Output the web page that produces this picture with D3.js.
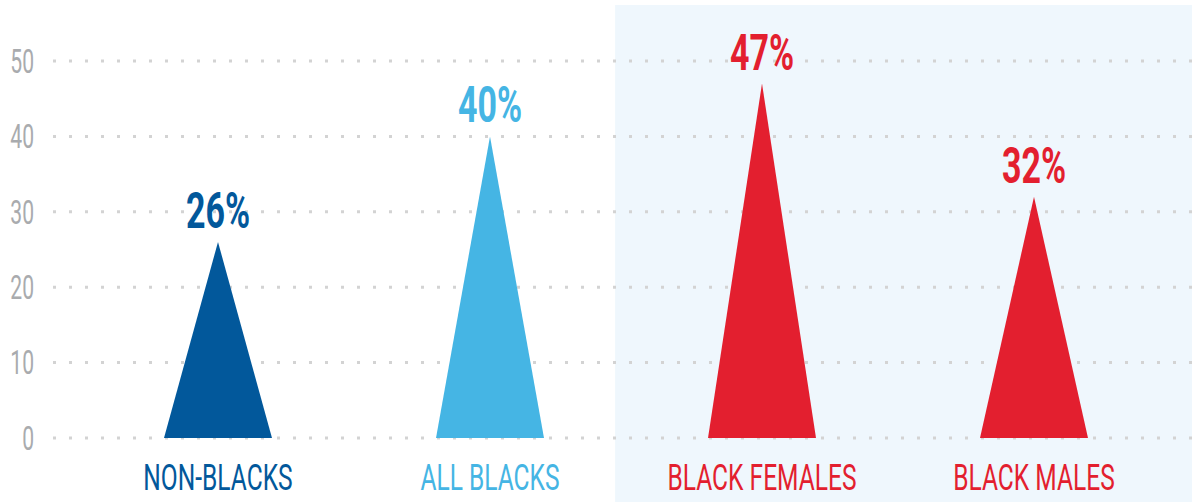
<!DOCTYPE html>
<html><head><meta charset="utf-8">
<script src="https://cdn.jsdelivr.net/npm/d3@7"></script>
<style>html,body{margin:0;padding:0;background:#fff;}svg{display:block;}</style>
</head><body>
<svg id="chart" width="1192" height="502"></svg>
<script>
const categories = ["NON-BLACKS", "ALL BLACKS", "BLACK FEMALES", "BLACK MALES"];
const values = [26, 40, 47, 32];
const valueLabels = ["26%", "40%", "47%", "32%"];
const colors = ["#02589b", "#45b5e4", "#e31f2f", "#e31f2f"];
const yTicks = [0, 10, 20, 30, 40, 50];
const highlighted = ["BLACK FEMALES", "BLACK MALES"];

const W = 1192, H = 502;
const svg = d3.select("#chart");
const x = d3.scaleBand().domain(categories).range([82, 1170]).paddingInner(0).paddingOuter(0);
const y = d3.scaleLinear().domain([0, 50]).range([438, 61]);
const step = x.step();
const triW = step * 0.397;

// highlight panel
const hx0 = x(highlighted[0]) - step * 0.04;
svg.append("rect").attr("x", hx0).attr("y", 5).attr("width", W - hx0).attr("height", H - 5)
  .attr("fill", "#eff7fd");

// gridlines (dotted)
const grid = svg.append("g");
grid.selectAll("line").data(yTicks).join("line")
  .attr("x1", 53).attr("x2", W).attr("y1", d => y(d)).attr("y2", d => y(d))
  .attr("stroke", "#d3d3d3").attr("stroke-width", 3)
  .attr("stroke-dasharray", "3 13");

// y tick labels
const ticks = svg.append("g");
ticks.selectAll("text").data(yTicks).join("text")
  .attr("transform", d => `translate(34,${y(d)}) scale(0.64,1)`)
  .attr("text-anchor", "end").attr("dy", "0.36em")
  .attr("font-family", "Roboto").attr("font-weight", 400).attr("font-size", 33)
  .attr("fill", "#a9abae").text(d => d);

// triangles
const data = categories.map((c, i) => ({c, v: values[i], label: valueLabels[i], color: colors[i]}));
svg.append("g").selectAll("path").data(data).join("path")
  .attr("d", d => {
    const cx = x(d.c) + step / 2;
    return `M${cx - triW / 2},${y(0)}L${cx},${y(d.v)}L${cx + triW / 2},${y(0)}Z`;
  })
  .attr("fill", d => d.color);

// value labels
svg.append("g").selectAll("text").data(data).join("text")
  .attr("transform", d => `translate(${x(d.c) + step / 2},${y(d.v) - 14}) scale(0.68,1)`)
  .attr("text-anchor", "middle")
  .attr("font-family", "Roboto").attr("font-weight", 700).attr("font-size", 50)
  .attr("fill", d => d.color).text(d => d.label);

// category labels
svg.append("g").selectAll("text").data(data).join("text")
  .attr("transform", d => `translate(${x(d.c) + step / 2},490) scale(0.655,1)`)
  .attr("text-anchor", "middle")
  .attr("font-family", "Roboto").attr("font-weight", 400).attr("font-size", 37.5)
  .attr("fill", d => d.color).text(d => d.c);
</script>
</body></html>
